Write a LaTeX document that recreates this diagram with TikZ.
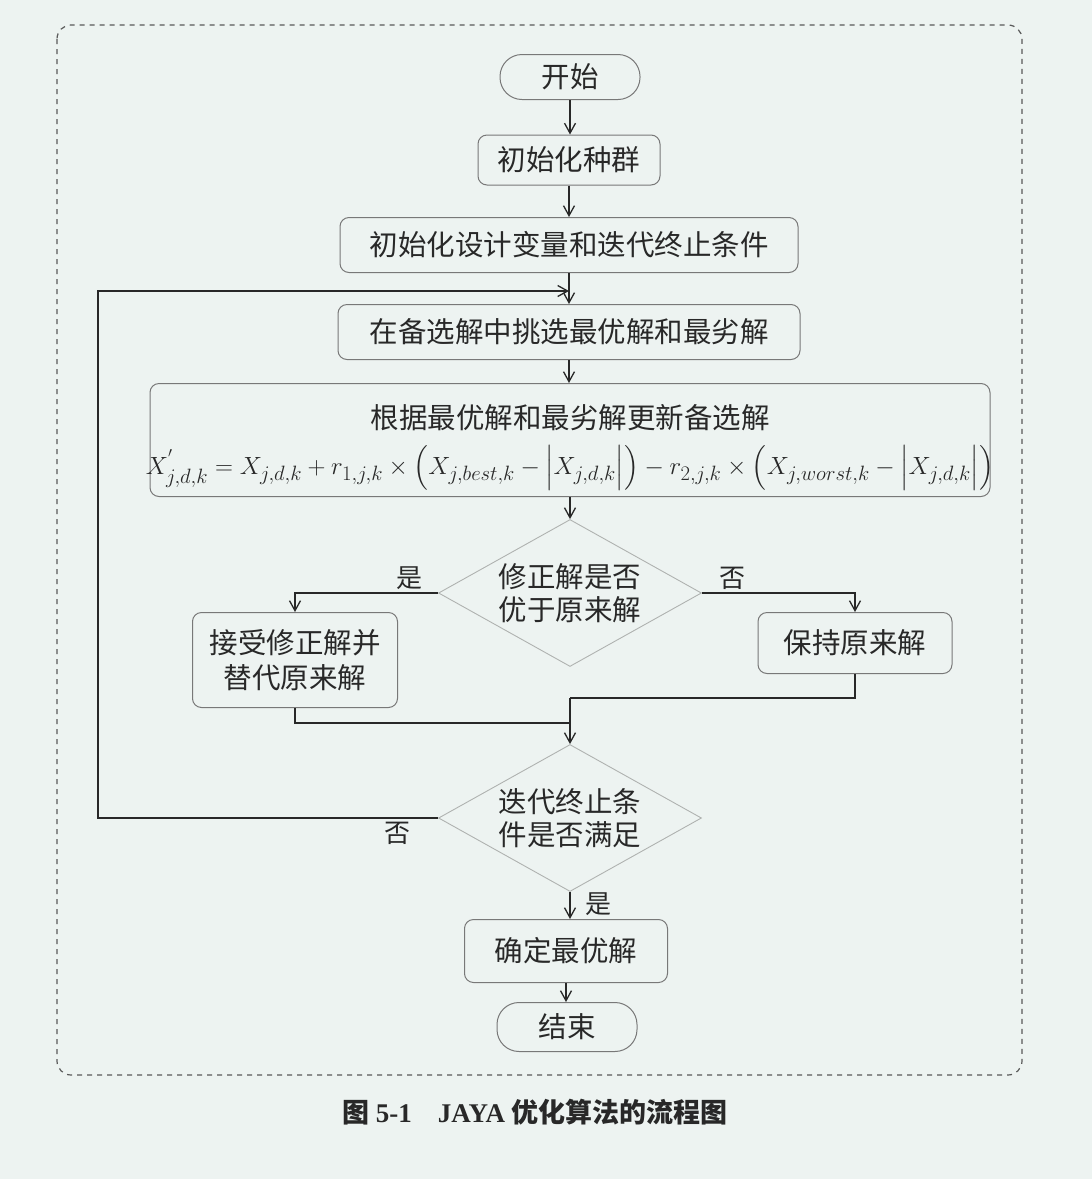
\documentclass[tikz,border=0pt]{standalone}
\usepackage{amsmath}
\usepackage{fontspec}
\setmainfont{Liberation Serif}
\newfontfamily\cjk{Noto Sans CJK SC}
\usetikzlibrary{shapes.geometric,arrows.meta}
\definecolor{paper}{RGB}{237,243,241}
\definecolor{ink}{RGB}{40,40,40}
\definecolor{frame}{RGB}{120,120,120}
\definecolor{rhomb}{RGB}{175,178,176}
\begin{document}
\begin{tikzpicture}[x=1pt,y=-1pt,
  box/.style={draw=frame, line width=1pt, rounded corners=9pt, inner sep=0pt,
    align=center, text=ink, font=\cjk\fontsize{28.5}{35}\selectfont},
  term/.style={box, rounded corners=22pt},
  decide/.style={diamond, draw=rhomb, line width=0.9pt, inner sep=0pt, aspect=1.79,
    align=center, text=ink, font=\cjk\fontsize{28.5}{33}\selectfont,
    minimum width=263pt, minimum height=147pt},
  link/.style={draw=ink, line width=1.3pt},
  flow/.style={link, -{Straight Barb[length=10pt,width=11pt,line width=1.3pt]}},
  lbl/.style={text=ink, font=\cjk\fontsize{26}{30}\selectfont, inner sep=3pt},
  boxtext/.style={text=ink, inner sep=0pt}]

% page and dashed frame
\useasboundingbox (0,0) rectangle (1092,1179);
\fill[paper] (0,0) rectangle (1092,1179);
\draw[black!65, line width=1.2pt, dash pattern=on 5pt off 5pt, rounded corners=14pt]
  (57,25) rectangle (1022,1075);

% steps
\node[term, minimum width=140pt, minimum height=45pt] (start) at (570,77) {开始};
\node[box, minimum width=182pt, minimum height=50pt] (pop) at (569,160) {初始化种群};
\node[box, minimum width=458pt, minimum height=55pt] (init) at (569,245) {初始化设计变量和迭代终止条件};
\node[box, minimum width=462pt, minimum height=55pt] (pick) at (569,332) {在备选解中挑选最优解和最劣解};

% update step: frame, title line and update rule
\node[box, minimum width=840pt, minimum height=113pt] (update) at (570,440) {};
\node[boxtext, font=\cjk\fontsize{28.5}{35}\selectfont] (upTitle) at (570,418)
  {根据最优解和最劣解更新备选解};
\node[boxtext, font=\fontsize{27.4}{33}\selectfont] (upRule) at (570,468)
  {$X^{'}_{j,d,k}=X_{j,d,k}+r_{1,j,k}\times\Bigl(X_{j,best,k}-\Bigl|X_{j,d,k}\Bigr|\Bigr)-r_{2,j,k}\times\Bigl(X_{j,worst,k}-\Bigl|X_{j,d,k}\Bigr|\Bigr)$};

\node[decide] (better) at (570,593) {修正解是否\\优于原来解};
\node[box, minimum width=205pt, minimum height=95pt] (accept) at (295,660) {接受修正解并\\替代原来解};
\node[box, minimum width=194pt, minimum height=61pt] (keep) at (855,643) {保持原来解};
\node[decide] (stop) at (570,818) {迭代终止条\\件是否满足};
\node[box, minimum width=203pt, minimum height=63pt] (best) at (566,951) {确定最优解};
\node[term, minimum width=140pt, minimum height=49pt] (end) at (567,1027) {结束};

% junction and loop points
\coordinate (joinR) at (570,698);
\coordinate (joinL) at (570,723);
\coordinate (back) at (98,818);
\coordinate (entry) at (569,291);

% connectors
\draw[flow] (start.south) -- (start.south |- pop.north);
\draw[flow] (pop.south) -- (pop.south |- init.north);
\draw[flow] (init.south) -- (init.south |- pick.north);
\draw[flow] (pick.south) -- (pick.south |- update.north);
\draw[flow] (update.south) -- (update.south |- better.north);
\draw[flow] (better.west) -| (accept.north) node[lbl, pos=0.1, above] {是};
\draw[flow] (better.east) -| (keep.north) node[lbl, pos=0.1, above] {否};
\draw[link] (keep.south) |- (joinR);
\draw[link] (accept.south) |- (joinL);
\draw[flow] (joinR) -- (joinR |- stop.north);
\draw[flow] (stop.west) -- (back) node[lbl, pos=0.12, below] {否} |- (entry);
\draw[flow] (stop.south) -- (stop.south |- best.north) node[lbl, pos=0.45, right=12pt] {是};
\draw[flow] (best.south) -- (best.south |- end.north);

% caption
\node[text=ink, font=\fontsize{27}{32}\selectfont\bfseries] (cap) at (535,1112)
  {{\cjk 图} 5-1\hspace{26pt}JAYA {\cjk 优化算法的流程图}};
\end{tikzpicture}
\end{document}
